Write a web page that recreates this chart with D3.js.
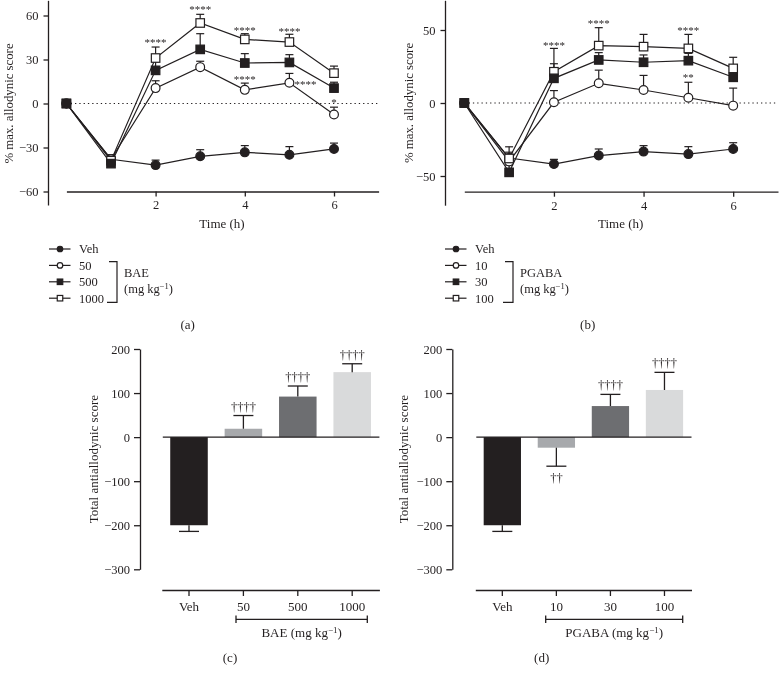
<!DOCTYPE html>
<html><head><meta charset="utf-8">
<script src="https://cdn.jsdelivr.net/npm/d3@7"></script>
<style>
body{margin:0;background:#fff}
svg{display:block;will-change:transform}
text{font-family:"Liberation Serif","Times New Roman",serif;fill:#231f20}
</style>
</head><body>
<svg id="chart" width="779" height="677"></svg>
<script>
// ---------- DATA ----------
const hours = [0, 1, 2, 3, 4, 5, 6];
const timeTicks = [2, 4, 6];
const yTicksA = [-60, -30, 0, 30, 60];
const yTicksB = [-50, 0, 50];
const barTicks = [-300, -200, -100, 0, 100, 200];

// Panel (a) BAE time course
const baeVeh     = [0, -38, -42, -36, -33.3, -35, -31];
const baeVehErr  = [0, 3, 3.4, 4.5, 4.6, 5.6, 4];
const bae50      = [0, -38, 10.5, 24.8, 9.3, 14.1, -7.5];
const bae50Err   = [0, 3, 5, 4, 4.6, 6.4, 5];
const bae500     = [0, -41, 22.6, 36.9, 27.6, 28, 10.5];
const bae500Err  = [0, 3, 8, 10.7, 6.4, 5.3, 4];
const bae1000    = [0, -39, 31, 54.9, 43.7, 41.9, 20.7];
const bae1000Err = [0, 3, 7.5, 5.9, 3.9, 5.3, 4.8];
const baeLegend  = ["Veh", "50", "500", "1000"];
// significance marks: [hour, value, label]
const baeStars = [[2, 43, "****"], [3, 65.4, "****"], [4, 51.3, "****"], [4, 17.8, "****"],
                  [5, 50.6, "****"], [5.36, 14.4, "****"], [6, 2, "*"]];

// Panel (b) PGABA time course
const pgVeh     = [0, -37.7, -41.8, -36, -33.3, -35, -31.5];
const pgVehErr  = [0, 4, 3.2, 4.5, 4.1, 5.1, 4.3];
const pg10      = [0, -40, 0.5, 13.5, 8.9, 3.6, -1.8];
const pg10Err   = [0, 5, 8, 9, 10, 10.6, 12];
const pg30      = [0, -47.5, 16.9, 29.5, 27.9, 29, 17.6];
const pg30Err   = [0, 5, 10, 5, 5, 5, 5];
const pg100     = [0, -38, 21.4, 39.3, 38.6, 37.4, 23.7];
const pg100Err  = [0, 8, 16, 12.3, 8.4, 9.6, 7.6];
const pgLegend  = ["Veh", "10", "30", "100"];
const pgStars = [[2, 40.9, "****"], [3, 55.7, "****"], [5, 50.7, "****"], [5, 18.5, "**"]];

// Panel (c) BAE totals
const baeCats   = ["Veh", "50", "500", "1000"];
const baeTotals = [-200, 19, 92, 147.5];
const baeTotErr = [14, 30, 24, 19];
const baeDaggers = ["", "††††", "††††", "††††"];

// Panel (d) PGABA totals
const pgCats    = ["Veh", "10", "30", "100"];
const pgTotals  = [-200, -24, 70.5, 107];
const pgTotErr  = [14, 42, 26.5, 40];
const pgDaggers = ["", "††", "††††", "††††"];

const barColors = ["#231f20", "#a7a9ac", "#6d6e71", "#d9dadb"];

// ---------- DRAW ----------
const ink = "#231f20";
const svg = d3.select("#chart");
svg.append("rect").attr("width", 779).attr("height", 677).attr("fill", "#fff");

function styleAxis(sel, fs) {
  sel.selectAll("path,line").attr("stroke", ink).attr("stroke-width", 1.3);
  sel.selectAll("text").style("font-size", fs + "px").attr("fill", ink)
     .style("font-family", '"Liberation Serif","Times New Roman",serif');
}

function drawMarker(g, type, cx, cy, s) {
  if (type === "fc" || type === "oc") {
    g.append("circle").attr("cx", cx).attr("cy", cy).attr("r", s / 2)
      .attr("fill", type === "fc" ? ink : "#fff").attr("stroke", ink).attr("stroke-width", 1.2);
  } else {
    g.append("rect").attr("x", cx - s / 2).attr("y", cy - s / 2).attr("width", s).attr("height", s)
      .attr("fill", type === "fs" ? ink : "#fff").attr("stroke", ink).attr("stroke-width", 1.2);
  }
}

function linePanel(cfg) {
  const { x, y, yTicks, series, stars, yAxisX, xAxisY, ylabelX, legendX, legendNames, drug, caption } = cfg;
  const g = svg.append("g");
  // y axis
  const ya = g.append("g").attr("transform", `translate(${yAxisX},0)`)
    .call(d3.axisLeft(y).tickValues(yTicks).tickSize(5).tickPadding(5).tickFormat(d3.format("d")));
  ya.select(".domain").remove();
  ya.append("line").attr("x1", 0).attr("x2", 0).attr("y1", y(70)).attr("y2", xAxisY + 14);
  styleAxis(ya, 12.5);
  // x axis
  const xa = g.append("g").attr("transform", `translate(0,${xAxisY})`)
    .call(d3.axisBottom(x).tickValues(timeTicks).tickSize(5).tickPadding(4).tickSizeOuter(0).tickFormat(d3.format("d")));
  styleAxis(xa, 12.5);
  // zero dotted line
  g.append("line").attr("x1", x(0)).attr("x2", x(7)).attr("y1", y(0)).attr("y2", y(0))
    .attr("stroke", ink).attr("stroke-width", 1.1).attr("stroke-dasharray", "1.3,3");
  // labels
  g.append("text").attr("transform", `translate(${ylabelX},${y(0)}) rotate(-90)`)
    .attr("text-anchor", "middle").style("font-size", "12.8px").text("% max. allodynic score");
  g.append("text").attr("x", (x(0) + x(7)) / 2 - 0.5).attr("y", 227.5)
    .attr("text-anchor", "middle").style("font-size", "13px").text("Time (h)");

  // series
  series.forEach(s => {
    const line = d3.line().x((d, i) => x(hours[i])).y(d => y(d));
    g.append("path").attr("d", line(s.values)).attr("fill", "none")
      .attr("stroke", ink).attr("stroke-width", 1.2);
  });
  series.forEach(s => {
    s.values.forEach((v, i) => {
      const e = s.errs[i];
      if (e > 0) {
        const cx = x(hours[i]);
        g.append("line").attr("x1", cx).attr("x2", cx).attr("y1", y(v)).attr("y2", y(v + e))
          .attr("stroke", ink).attr("stroke-width", 1.2);
        g.append("line").attr("x1", cx - 4).attr("x2", cx + 4).attr("y1", y(v + e)).attr("y2", y(v + e))
          .attr("stroke", ink).attr("stroke-width", 1.2);
      }
    });
  });
  series.forEach(s => {
    s.values.forEach((v, i) => drawMarker(g, s.type, x(hours[i]), y(v), s.type.endsWith("s") ? 8.5 : 8.8));
  });
  // stars
  stars.forEach(([t, v, lab]) => {
    g.append("text").attr("x", x(t)).attr("y", y(v) + 5.5).attr("text-anchor", "middle")
      .style("font-size", "11px").text(lab);
  });

  // legend
  const types = ["fc", "oc", "fs", "os"];
  const rowY = [249, 265.4, 281.8, 298.2];
  legendNames.forEach((n, i) => {
    g.append("line").attr("x1", legendX).attr("x2", legendX + 21.5).attr("y1", rowY[i]).attr("y2", rowY[i])
      .attr("stroke", ink).attr("stroke-width", 1.2);
    drawMarker(g, types[i], legendX + 11, rowY[i], 5.5);
    g.append("text").attr("x", legendX + 30).attr("y", rowY[i] + 4.3).style("font-size", "12.5px").text(n);
  });
  const bx = legendX + 68;
  g.append("path").attr("d", `M${bx - 8},261.7H${bx}V302.3H${bx - 10}`).attr("fill", "none")
    .attr("stroke", ink).attr("stroke-width", 1.2);
  g.append("text").attr("x", bx + 7).attr("y", 276.7).style("font-size", "12.5px").text(drug);
  const t2 = g.append("text").attr("x", bx + 7).attr("y", 293).style("font-size", "12.5px");
  t2.append("tspan").text("(mg kg");
  t2.append("tspan").attr("dy", -4).style("font-size", "8.5px").text("−1");
  t2.append("tspan").attr("dy", 4).text(")");
  g.append("text").attr("x", caption[0]).attr("y", caption[1]).attr("text-anchor", "middle")
    .style("font-size", "13px").text(caption[2]);
}

// Panel (a)
const xA = d3.scaleLinear().domain([0, 7]).range([66.4, 378.6]);
const yA = d3.scaleLinear().domain([-60, 60]).range([191.5, 15.5]);
linePanel({
  x: xA, y: yA, yTicks: yTicksA, yAxisX: 48.5, xAxisY: yA(-60), ylabelX: 13,
  series: [
    { values: baeVeh, errs: baeVehErr, type: "fc" },
    { values: bae50, errs: bae50Err, type: "oc" },
    { values: bae1000, errs: bae1000Err, type: "os" },
    { values: bae500, errs: bae500Err, type: "fs" }
  ],
  stars: baeStars, legendX: 49, legendNames: baeLegend, drug: "BAE", caption: [187.7, 329, "(a)"]
});

// Panel (b)
const xB = d3.scaleLinear().domain([0, 7]).range([464.3, 778]);
const yB = d3.scaleLinear().domain([-50, 50]).range([176, 30]);
linePanel({
  x: xB, y: yB, yTicks: yTicksB, yAxisX: 445.5, xAxisY: 191.7, ylabelX: 413,
  series: [
    { values: pgVeh, errs: pgVehErr, type: "fc" },
    { values: pg10, errs: pg10Err, type: "oc" },
    { values: pg100, errs: pg100Err, type: "os" },
    { values: pg30, errs: pg30Err, type: "fs" }
  ],
  stars: pgStars, legendX: 445, legendNames: pgLegend, drug: "PGABA", caption: [587.7, 329, "(b)"]
});

function barPanel(cfg) {
  const { cats, vals, errs, daggers, xRange, yAxisX, ylabelX, drug, groupRange, caption } = cfg;
  const g = svg.append("g");
  const x = d3.scaleBand().domain(cats).range(xRange).paddingInner(0.31).paddingOuter(0.155);
  const y = d3.scaleLinear().domain([-300, 200]).range([569.3, 349]);
  const ya = g.append("g").attr("transform", `translate(${yAxisX},0)`)
    .call(d3.axisLeft(y).tickValues(barTicks).tickSize(6).tickPadding(4).tickSizeOuter(0).tickFormat(d3.format("d")));
  styleAxis(ya, 12.5);
  const xa = g.append("g").attr("transform", `translate(0,590)`)
    .call(d3.axisBottom(x).tickSize(6).tickPadding(6).tickSizeOuter(0));
  styleAxis(xa, 13);
  // bars
  cats.forEach((c, i) => {
    const v = vals[i];
    g.append("rect").attr("x", x(c)).attr("width", x.bandwidth())
      .attr("y", y(Math.max(0, v))).attr("height", Math.abs(y(v) - y(0)))
      .attr("fill", barColors[i]);
    const cx = x(c) + x.bandwidth() / 2;
    const tip = v >= 0 ? v + errs[i] : v - errs[i];
    g.append("line").attr("x1", cx).attr("x2", cx).attr("y1", y(v)).attr("y2", y(tip))
      .attr("stroke", ink).attr("stroke-width", 1.3);
    g.append("line").attr("x1", cx - 10).attr("x2", cx + 10).attr("y1", y(tip)).attr("y2", y(tip))
      .attr("stroke", ink).attr("stroke-width", 1.3);
    if (daggers[i]) {
      g.append("text").attr("x", cx).attr("y", v >= 0 ? y(tip) - 5 : y(tip) + 16)
        .attr("text-anchor", "middle").style("font-size", "12.5px")
        .text(daggers[i]);
    }
  });
  // zero line
  g.append("line").attr("x1", xRange[0] + 1).attr("x2", xRange[1]).attr("y1", y(0)).attr("y2", y(0))
    .attr("stroke", ink).attr("stroke-width", 1.3);
  g.append("text").attr("transform", `translate(${ylabelX},${y(-50)}) rotate(-90)`)
    .attr("text-anchor", "middle").style("font-size", "13px").text("Total antiallodynic score");
  // group bracket
  g.append("path").attr("d", `M${groupRange[0]},615.5V623M${groupRange[0]},619.3H${groupRange[1]}M${groupRange[1]},615.5V623`)
    .attr("fill", "none").attr("stroke", ink).attr("stroke-width", 1.3);
  const t = g.append("text").attr("x", (groupRange[0] + groupRange[1]) / 2).attr("y", 637)
    .attr("text-anchor", "middle").style("font-size", "13px");
  t.append("tspan").text(drug + " (mg kg");
  t.append("tspan").attr("dy", -4).style("font-size", "9px").text("−1");
  t.append("tspan").attr("dy", 4).text(")");
  g.append("text").attr("x", caption[0]).attr("y", 662).attr("text-anchor", "middle")
    .style("font-size", "13px").text(caption[1]);
}

barPanel({ cats: baeCats, vals: baeTotals, errs: baeTotErr, daggers: baeDaggers,
  xRange: [161.8, 379.4], yAxisX: 140, ylabelX: 97.5, drug: "BAE", groupRange: [236, 367.3], caption: [230, "(c)"] });
barPanel({ cats: pgCats, vals: pgTotals, errs: pgTotErr, daggers: pgDaggers,
  xRange: [475.3, 691.5], yAxisX: 452.3, ylabelX: 408, drug: "PGABA", groupRange: [545.7, 682.7], caption: [541.7, "(d)"] });
</script>
</body></html>
